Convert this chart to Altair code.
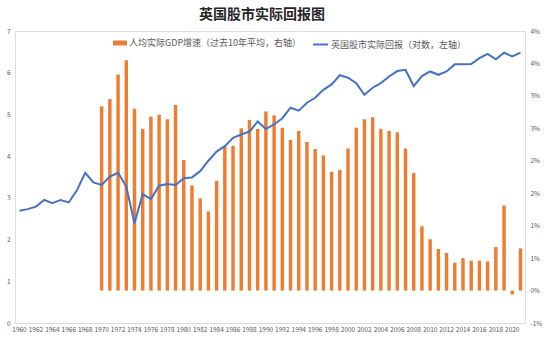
import altair as alt
import pandas as pd

# ---------------- data ----------------
years = list(range(1960, 2022))

# UK real stock market return (log, left axis)
stock_log_return = [
    2.69, 2.73, 2.79, 2.95, 2.87, 2.95, 2.89, 3.19, 3.60, 3.37,   # 1960-1969
    3.31, 3.51, 3.60, 3.27, 2.39, 3.09, 2.97, 3.29, 3.33, 3.31,   # 1970-1979
    3.47, 3.49, 3.64, 3.89, 4.11, 4.24, 4.44, 4.52, 4.59, 4.83,   # 1980-1989
    4.65, 4.76, 4.91, 5.16, 5.09, 5.28, 5.40, 5.59, 5.72, 5.94,   # 1990-1999
    5.88, 5.75, 5.47, 5.64, 5.75, 5.91, 6.04, 6.07, 5.68, 5.92,   # 2000-2009
    6.03, 5.95, 6.03, 6.20, 6.20, 6.21, 6.35, 6.45, 6.32, 6.48,   # 2010-2019
    6.39, 6.48,                                                   # 2020-2021
]

# Real GDP per capita growth, 10-year average, in percent (right axis)
gdp_growth_pct = [None] * 10 + [
    2.84, 2.95, 3.33, 3.55, 2.80, 2.49, 2.68, 2.71, 2.64, 2.86,   # 1970-1979
    2.01, 1.62, 1.42, 1.22, 1.69, 2.22, 2.23, 2.50, 2.63, 2.49,   # 1980-1989
    2.76, 2.70, 2.51, 2.32, 2.46, 2.29, 2.18, 2.08, 1.83, 1.86,   # 1990-1999
    2.19, 2.51, 2.64, 2.67, 2.49, 2.46, 2.44, 2.19, 1.81, 0.99,   # 2000-2009
    0.79, 0.64, 0.58, 0.43, 0.50, 0.46, 0.46, 0.45, 0.67, 1.31,   # 2010-2019
    -0.06, 0.65,                                                  # 2020-2021
]

left_ticks = [0, 1, 2, 3, 4, 5, 6, 7]
right_ticks = [-0.005, 0.0, 0.005, 0.01, 0.015, 0.02, 0.025, 0.03, 0.035, 0.04]
x_label_years = list(range(1960, 2022, 2))

TITLE = "英国股市实际回报图"
GDP_LABEL = "人均实际GDP增速（过去10年平均，右轴）"
STOCK_LABEL = "英国股市实际回报（对数，左轴）"

df = pd.DataFrame({
    "year": years,
    "stock": stock_log_return,
    "gdp": [None if v is None else v / 100 for v in gdp_growth_pct],
})

FONT = "Noto Sans CJK SC"
LABEL_COLOR = "#595959"
ORANGE = "#ED7D31"
BLUE = "#4472C4"

x_enc = alt.X(
    "year:O",
    title=None,
    scale=alt.Scale(paddingInner=0.58, paddingOuter=0.34),
    axis=alt.Axis(
        values=x_label_years,
        labelAngle=0,
        labelFontSize=6.5,
        labelFont=FONT,
        labelColor=LABEL_COLOR,
        labelOverlap=False,
        labelPadding=3,
        ticks=False,
        domainColor="#d9d9d9",
        domainWidth=1,
        grid=False,
    ),
)

bars = (
    alt.Chart(df)
    .transform_filter("isValid(datum.gdp)")
    .transform_calculate(s1=f"'{GDP_LABEL}'")
    .mark_bar()
    .encode(
        x=x_enc,
        y=alt.Y(
            "gdp:Q",
            title=None,
            scale=alt.Scale(domain=[-0.005, 0.04], nice=False),
            axis=alt.Axis(
                orient="right",
                values=right_ticks,
                labelExpr="replace(format(datum.value, '.0%'), '\u2212', '-')",
                labelFontSize=6.5,
                labelFont=FONT,
                labelColor=LABEL_COLOR,
                labelPadding=5,
                labelAlign="left",
                domain=False,
                ticks=False,
                grid=False,
            ),
        ),
        color=alt.Color(
            "s1:N",
            scale=alt.Scale(range=[ORANGE]),
            legend=alt.Legend(
                title=None,
                orient="none",
                legendX=98,
                legendY=5,
                padding=0,
                symbolType="M-1,-0.35L1,-0.35L1,0.35L-1,0.35Z",
                symbolSize=196,
                symbolStrokeWidth=0,
                labelOffset=2,
                labelLimit=400,
                labelFont=FONT,
                labelFontSize=9,
                labelColor=LABEL_COLOR,
            ),
        ),
    )
)

line = (
    alt.Chart(df)
    .transform_calculate(s2=f"'{STOCK_LABEL}'")
    .mark_line(strokeWidth=2)
    .encode(
        x=x_enc,
        y=alt.Y(
            "stock:Q",
            title=None,
            scale=alt.Scale(domain=[0, 7], nice=False),
            axis=alt.Axis(
                orient="left",
                values=left_ticks,
                labelFontSize=6.5,
                labelFont=FONT,
                labelColor=LABEL_COLOR,
                labelPadding=5,
                domain=False,
                ticks=False,
                grid=False,
            ),
        ),
        stroke=alt.Stroke(
            "s2:N",
            scale=alt.Scale(range=[BLUE]),
            legend=alt.Legend(
                title=None,
                orient="none",
                legendX=297,
                legendY=5,
                padding=0,
                symbolType="stroke",
                symbolSize=225,
                symbolStrokeWidth=2,
                labelOffset=2,
                labelLimit=400,
                labelFont=FONT,
                labelFontSize=9,
                labelColor=LABEL_COLOR,
            ),
        ),
    )
)

chart = (
    alt.layer(bars, line)
    .resolve_scale(y="independent")
    .properties(
        width=510,
        height=292,
        padding={"left": 15, "top": 31, "right": 25, "bottom": 27},
        autosize=alt.AutoSizeParams(type="none"),
        title=alt.Title(
            TITLE,
            font=FONT,
            fontSize=14,
            fontWeight="bold",
            color="#262626",
            anchor="middle",
            baseline="bottom",
            offset=8,
            dx=-8,
            dy=16,
        ),
    )
    .configure_view(stroke=None)
    .configure(background="white")
)

chart.save("out.html", embed_options={"renderer": "svg", "actions": False})
